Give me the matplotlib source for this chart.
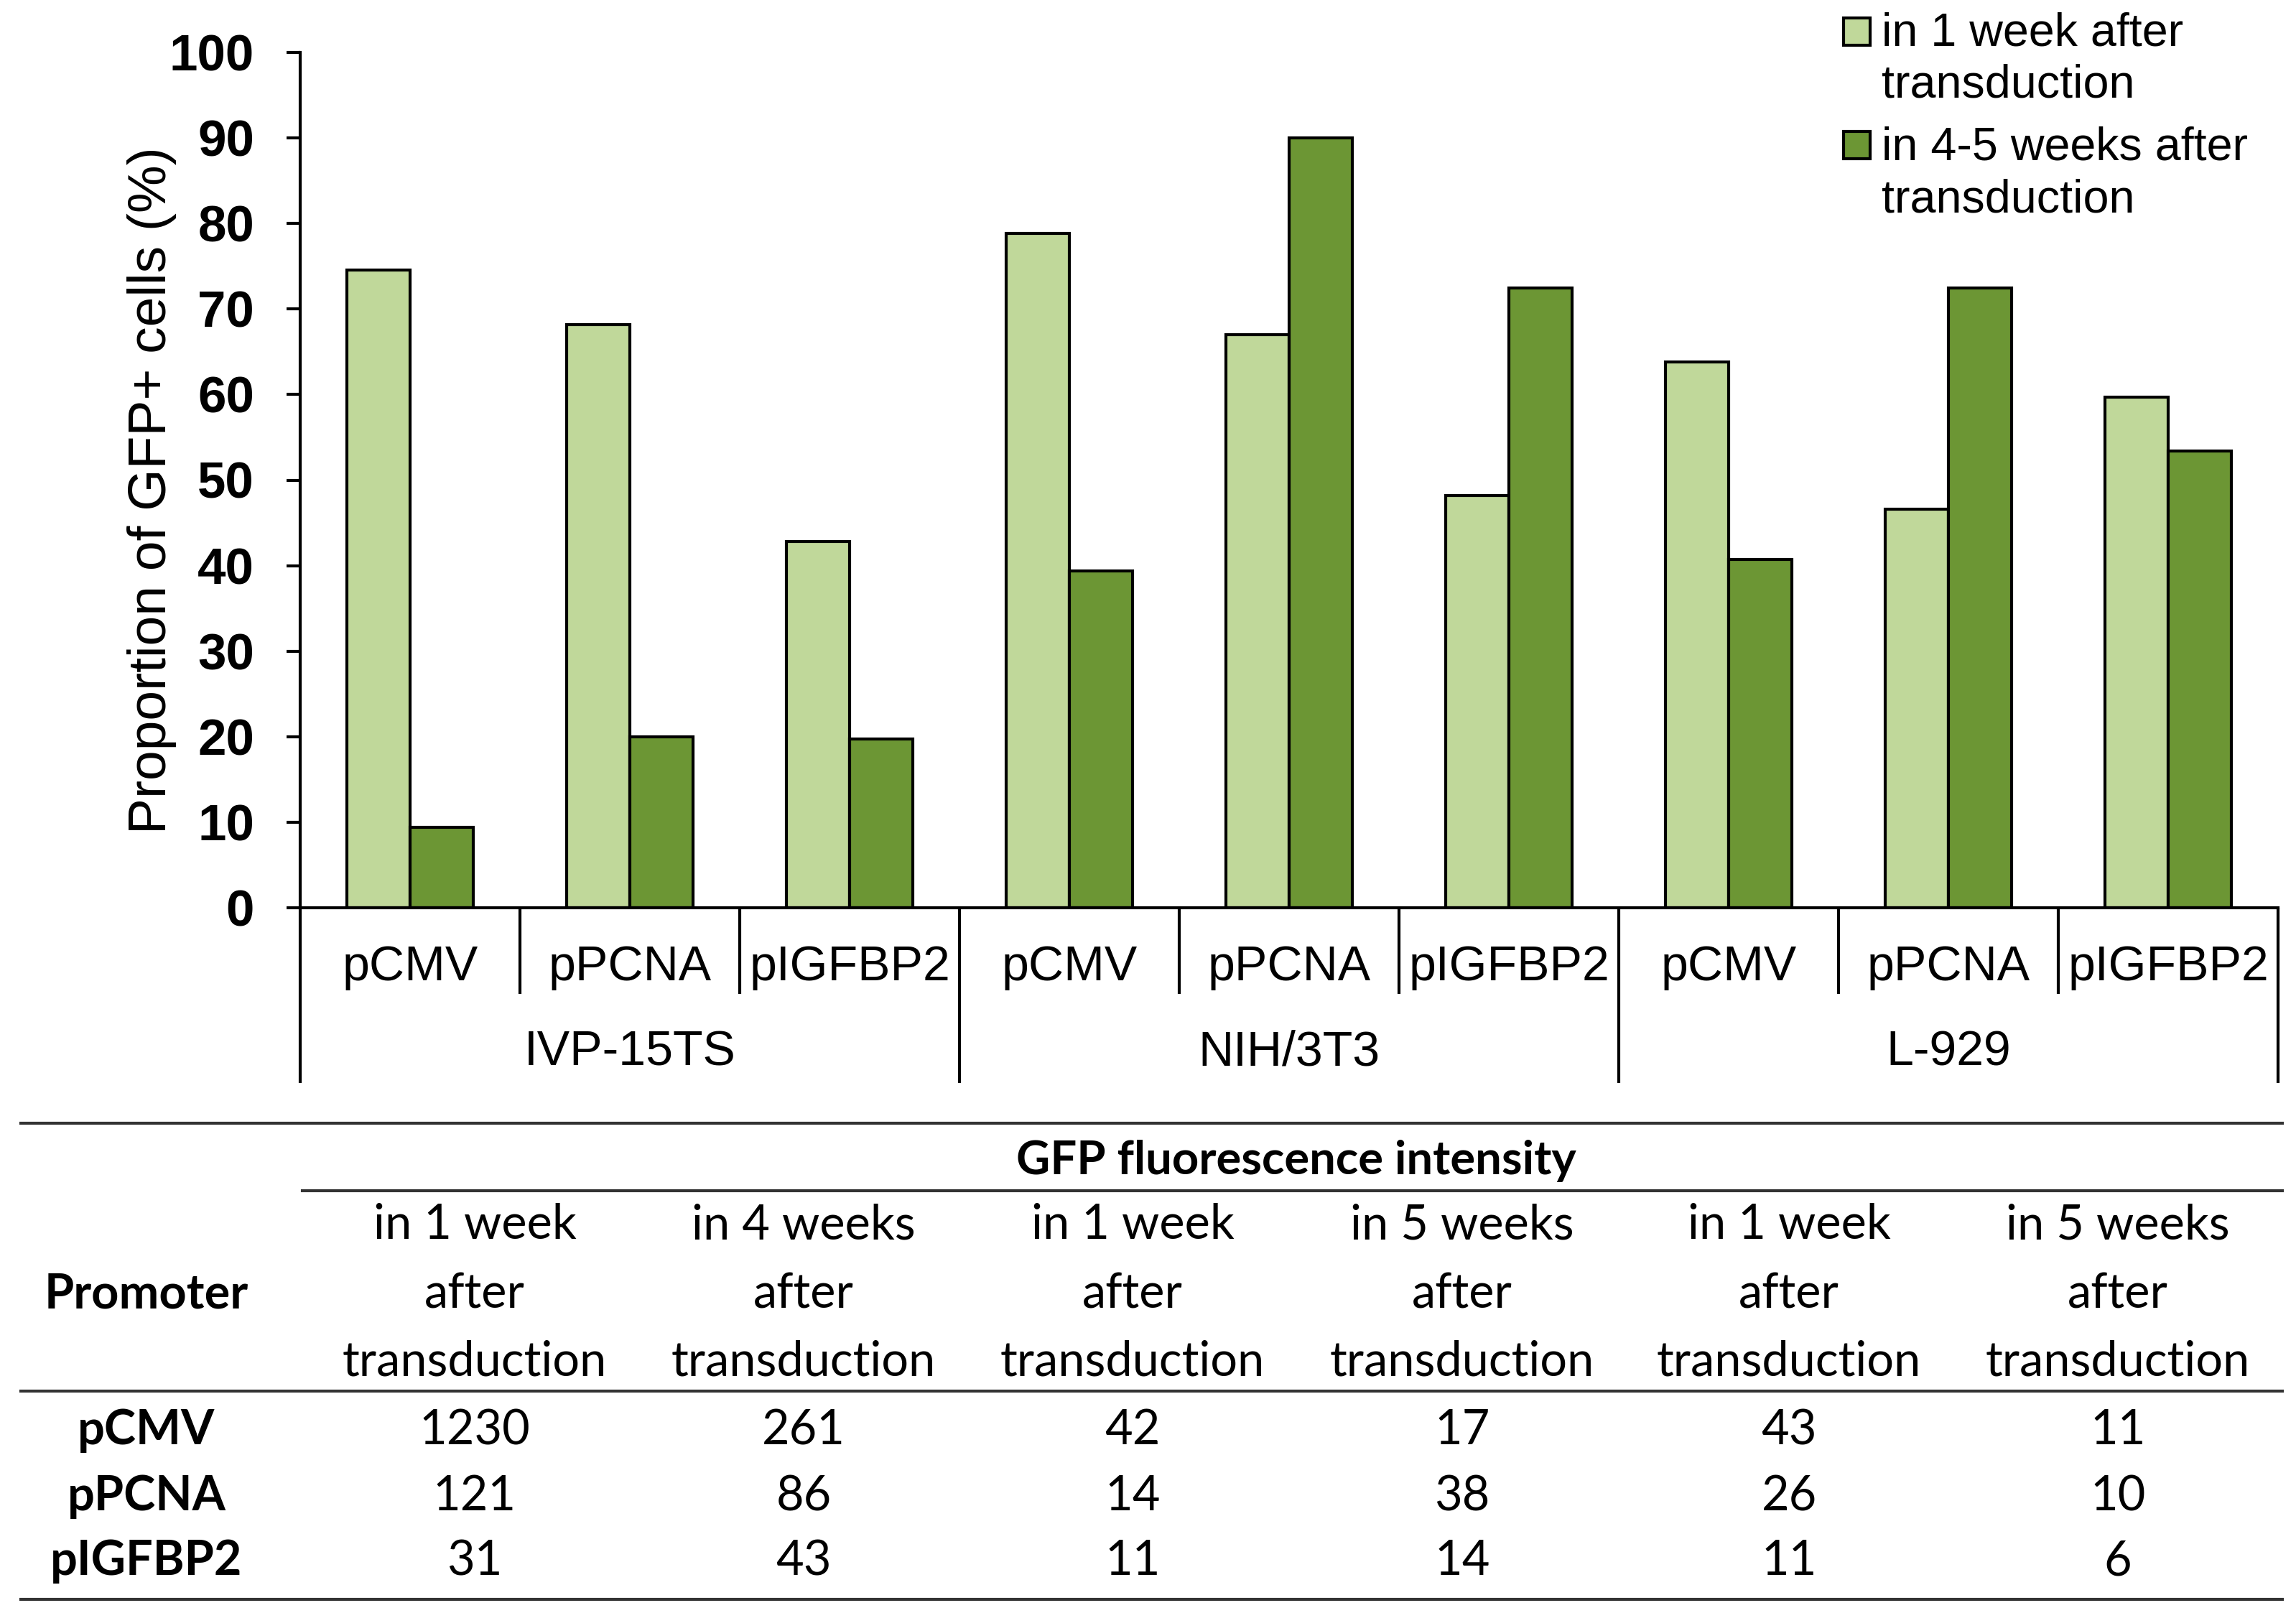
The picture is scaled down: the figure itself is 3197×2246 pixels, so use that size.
import numpy as np
import matplotlib.pyplot as plt
from matplotlib.patches import Rectangle
from matplotlib.lines import Line2D
from matplotlib.transforms import blended_transform_factory

plt.rcParams['font.family'] = ['Liberation Sans', 'DejaVu Sans']

W, H = 3197, 2246

cell_lines = ['IVP-15TS', 'NIH/3T3', 'L-929']
promoters = ['pCMV', 'pPCNA', 'pIGFBP2']
week1 = [74.6, 68.2, 42.8, 78.8, 67.0, 48.2, 63.8, 46.6, 59.7]
week45 = [9.4, 20.0, 19.7, 39.4, 90.0, 72.5, 40.7, 72.5, 53.4]
legend_labels = ['in 1 week after\ntransduction', 'in 4-5 weeks after\ntransduction']
ylabel = 'Proportion of GFP+ cells (%)'

table_title = 'GFP fluorescence intensity'
row_header = 'Promoter'
col_headers = ['in 1 week\nafter\ntransduction', 'in 4 weeks\nafter\ntransduction',
               'in 1 week\nafter\ntransduction', 'in 5 weeks\nafter\ntransduction',
               'in 1 week\nafter\ntransduction', 'in 5 weeks\nafter\ntransduction']
intensity = [[1230, 261, 42, 17, 43, 11],
             [121, 86, 14, 38, 26, 10],
             [31, 43, 11, 14, 11, 6]]

light = '#C0D89A'
dark = '#6C9634'


def fx(px):
    return px / W


def fy(py):
    return 1 - py / H


fig = plt.figure(figsize=(W / 100, H / 100), dpi=100)
ax = fig.add_axes([fx(418), fy(1264), fx(3172) - fx(418), fy(73) - fy(1264)])

x = np.arange(len(week1)) + 0.5
ax.bar(x - 0.144, week1, 0.288, color=light, edgecolor='black', linewidth=3)
ax.bar(x + 0.144, week45, 0.288, color=dark, edgecolor='black', linewidth=3)

ax.set_xlim(0, 9)
ax.set_ylim(0, 100)
ax.set_yticks(range(0, 101, 10))
ax.set_xticks([])
ax.tick_params(axis='y', direction='out', length=14, width=3, pad=32, labelsize=51)
for t in ax.get_yticklabels():
    t.set_fontweight('bold')
for s in ['top', 'right']:
    ax.spines[s].set_visible(False)
for s in ['left', 'bottom']:
    ax.spines[s].set_linewidth(3)

fig.text(fx(212), fy(683), ylabel, rotation=90, ha='center', va='center', fontsize=54)

# category axis below the plot
blend = blended_transform_factory(ax.transData, ax.transAxes)
axh = 1264 - 73
for i in range(9):
    ax.text(i + 0.5, (1264 - 1347) / axh, promoters[i % 3], transform=blend,
            ha='center', va='center', fontsize=49)
for g, name in enumerate(cell_lines):
    ax.text(g * 3 + 1.5, (1264 - 1466) / axh, name, transform=blend,
            ha='center', va='center', fontsize=49)
for b in range(10):
    depth = (1508 - 1264) / axh if b % 3 == 0 else (1384 - 1264) / axh
    ax.plot([b, b], [0, -depth], transform=blend, color='black', lw=3,
            clip_on=False, solid_capstyle='butt')

# legend
for k, (lab, col) in enumerate(zip(legend_labels, [light, dark])):
    top = 25 + k * 158
    fig.add_artist(Rectangle((fx(2567), fy(top + 38)), fx(37), 38 / H,
                             transform=fig.transFigure, facecolor=col,
                             edgecolor='black', lw=3))
    for j, line in enumerate(lab.split('\n')):
        fig.text(fx(2620), fy(63 + k * 160 + j * 73), line, va='baseline',
                 ha='left', fontsize=46.5)

# table
tfont = ['Lato', 'DejaVu Sans']
tcol = '#333333'
for y0, x0 in [(1564, 29), (1658, 421), (1937, 29), (2227, 29)]:
    fig.add_artist(Line2D([fx(x0), fx(3178)], [fy(y0), fy(y0)],
                          transform=fig.transFigure, color=tcol, lw=3))

col_x = [661, 1119, 1577, 2036, 2491, 2949]
fig.text(fx(1805), fy(1616), table_title, ha='center', va='center',
         fontsize=47, fontweight='bold', family=tfont)
fig.text(fx(204), fy(1803), row_header, ha='center', va='center',
         fontsize=48, fontweight='bold', family=tfont)
for cx, head in zip(col_x, col_headers):
    for j, line in enumerate(head.split('\n')):
        fig.text(fx(cx), fy([1706, 1803, 1896][j]), line, ha='center',
                 va='center', fontsize=48, family=tfont)
row_y = [1992, 2084, 2174]
for ry, prom, vals in zip(row_y, promoters, intensity):
    fig.text(fx(204), fy(ry), prom, ha='center', va='center', fontsize=48,
             fontweight='bold', family=tfont)
    for cx, v in zip(col_x, vals):
        fig.text(fx(cx), fy(ry), str(v), ha='center', va='center',
                 fontsize=48, family=tfont)

fig.savefig('out.png', dpi=100, facecolor='white')
